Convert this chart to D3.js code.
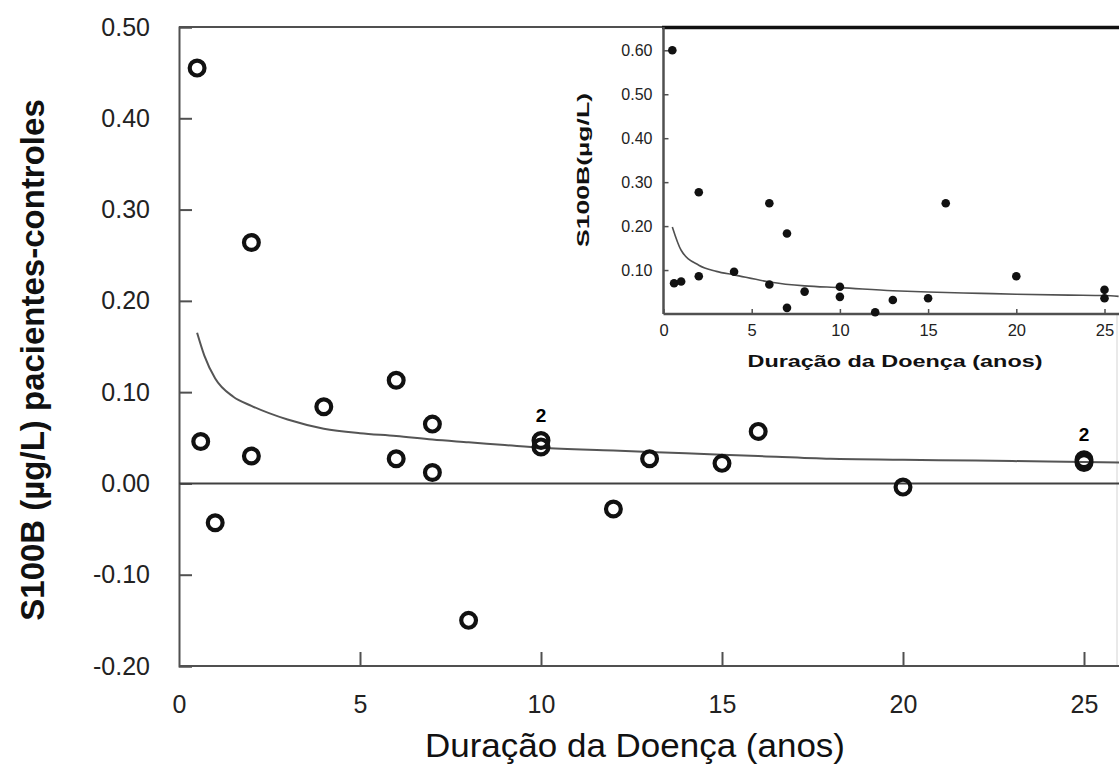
<!DOCTYPE html>
<html>
<head>
<meta charset="utf-8">
<script src="https://cdn.jsdelivr.net/npm/d3@7"></script>
<style>
  body { margin: 0; background: #fff; }
  svg { display: block; font-family: "Liberation Sans", Arial, sans-serif; }
</style>
</head>
<body>
<div id="chart"></div>
<script>
// main plot: S100B patients - controls
var mainX = [0.5, 0.6, 1, 2, 2, 4, 6, 6, 7, 7, 8, 10, 10, 12, 13, 15, 16, 20, 25, 25];
var mainY = [0.455, 0.046, -0.043, 0.264, 0.030, 0.084, 0.113, 0.027, 0.065, 0.012, -0.150, 0.047, 0.040, -0.028, 0.027, 0.022, 0.057, -0.004, 0.026, 0.023];

// fitted curve of the main plot
var curveX = [0.5, 0.7, 1, 1.5, 2, 3, 4, 5, 6, 7, 8, 9, 10, 12, 14, 16, 18, 20, 22, 24, 26];
var curveY = [0.165, 0.14, 0.115, 0.095, 0.085, 0.07, 0.06, 0.055, 0.052, 0.048, 0.045, 0.042, 0.039, 0.036, 0.033, 0.030, 0.027, 0.026, 0.025, 0.024, 0.023];

// inset: S100B of patients
var insetX = [0.5, 0.6, 1, 2, 2, 4, 6, 6, 7, 7, 8, 10, 10, 12, 13, 15, 16, 20, 25, 25];
var insetY = [0.60, 0.07, 0.074, 0.277, 0.086, 0.096, 0.252, 0.067, 0.183, 0.014, 0.051, 0.062, 0.039, 0.004, 0.032, 0.036, 0.252, 0.086, 0.055, 0.036];

var insetCurveX = [0.5, 1, 2, 3, 4, 6, 8, 10, 13, 15, 18, 20, 23, 25, 25.8];
var insetCurveY = [0.198, 0.145, 0.111, 0.097, 0.089, 0.073, 0.064, 0.060, 0.053, 0.050, 0.047, 0.045, 0.043, 0.042, 0.040];

// "2" = two overlapping patients
var countX = [10, 25];
var countY = [0.047, 0.026];
var countLabel = ["2", "2"];

var mainXTicks = [0, 5, 10, 15, 20, 25];
var mainYTicks = [-0.2, -0.1, 0, 0.1, 0.2, 0.3, 0.4, 0.5];
var insetXTicks = [0, 5, 10, 15, 20, 25];
var insetYTicks = [0.1, 0.2, 0.3, 0.4, 0.5, 0.6];

var W = 1119, H = 767;
var axisCol = "#505050";

var svg = d3.select("#chart").append("svg")
    .attr("width", W)
    .attr("height", H);

// ---------- main plot ----------
var x = d3.scaleLinear().domain([0, 26]).range([179, 179 + 26 * 36.2]);
var y = d3.scaleLinear().domain([-0.2, 0.5]).range([666, 27]);

// frame top + faint right edge
svg.append("line")
    .attr("x1", 179).attr("x2", W).attr("y1", y(0.5)).attr("y2", y(0.5))
    .attr("stroke", axisCol).attr("stroke-width", 2);
svg.append("line")
    .attr("x1", 1117).attr("x2", 1117).attr("y1", y(0.5)).attr("y2", y(-0.2))
    .attr("stroke", "#e2e2e2").attr("stroke-width", 1.5);

var yAxis = svg.append("g")
    .attr("transform", "translate(179,0)")
    .call(d3.axisLeft(y)
        .tickValues(mainYTicks)
        .tickSize(-13)
        .tickPadding(29)
        .tickFormat(function(d) { return d.toFixed(2); }));
yAxis.select(".domain").attr("stroke", axisCol).attr("stroke-width", 2);
yAxis.selectAll(".tick line").attr("stroke", axisCol).attr("stroke-width", 2);
yAxis.selectAll(".tick text").attr("font-size", 25).attr("fill", "#222")
    .attr("font-family", "Liberation Sans, Arial, sans-serif");

var xAxis = svg.append("g")
    .attr("transform", "translate(0,666)")
    .call(d3.axisBottom(x)
        .tickValues(mainXTicks)
        .tickSize(-14)
        .tickPadding(29)
        .tickFormat(d3.format("d")));
xAxis.select(".domain").remove();
xAxis.append("line")
    .attr("x1", 179).attr("x2", W).attr("y1", 0).attr("y2", 0)
    .attr("stroke", axisCol).attr("stroke-width", 2);
xAxis.selectAll(".tick line").attr("stroke", axisCol).attr("stroke-width", 2);
xAxis.selectAll(".tick").filter(function(d) { return d === 0; }).select("line").remove();
xAxis.selectAll(".tick text").attr("font-size", 25).attr("fill", "#222")
    .attr("font-family", "Liberation Sans, Arial, sans-serif");

// zero line
svg.append("line")
    .attr("x1", 179).attr("x2", W).attr("y1", y(0)).attr("y2", y(0))
    .attr("stroke", "#404040").attr("stroke-width", 2);

// fitted curve
var line = d3.line()
    .x(function(d) { return x(d[0]); })
    .y(function(d) { return y(d[1]); })
    .curve(d3.curveMonotoneX);
svg.append("path")
    .datum(d3.zip(curveX, curveY))
    .attr("d", line)
    .attr("fill", "none")
    .attr("stroke", "#555")
    .attr("stroke-width", 2);

// open circles
svg.selectAll("circle.main")
    .data(d3.zip(mainX, mainY))
    .enter()
    .append("circle")
    .attr("class", "main")
    .attr("cx", function(d) { return x(d[0]); })
    .attr("cy", function(d) { return y(d[1]); })
    .attr("r", 7.4)
    .attr("fill", "none")
    .attr("stroke", "#111")
    .attr("stroke-width", 4.2);

svg.selectAll("text.count")
    .data(d3.zip(countX, countY, countLabel))
    .enter()
    .append("text")
    .attr("class", "count")
    .attr("x", function(d) { return x(d[0]); })
    .attr("y", function(d) { return y(d[1]) - 19; })
    .attr("text-anchor", "middle")
    .attr("font-size", 19)
    .attr("font-weight", "bold")
    .text(function(d) { return d[2]; });

// axis titles
svg.append("text")
    .attr("x", 635).attr("y", 757)
    .attr("text-anchor", "middle")
    .attr("font-size", 33)
    .attr("textLength", 420)
    .attr("lengthAdjust", "spacingAndGlyphs")
    .attr("fill", "#111")
    .text("Duração da Doença (anos)");

svg.append("text")
    .attr("transform", "translate(44,360) rotate(-90)")
    .attr("text-anchor", "middle")
    .attr("font-size", 33)
    .attr("font-weight", "bold")
    .attr("fill", "#111")
    .text("S100B (µg/L) pacientes-controles");

// ---------- inset ----------
var ix = d3.scaleLinear().domain([0, 25.8]).range([663.5, 663.5 + 25.8 * 17.64]);
var iy = d3.scaleLinear().domain([0, 0.653]).range([314, 27]);

var inset = svg.append("g");

inset.append("rect")
    .attr("x", 663.5).attr("y", 27)
    .attr("width", W - 663.5).attr("height", 314 - 27)
    .attr("fill", "#fff");

inset.append("line")
    .attr("x1", 662).attr("x2", W).attr("y1", 27.5).attr("y2", 27.5)
    .attr("stroke", "#111").attr("stroke-width", 3.5);

var iyAxis = inset.append("g")
    .attr("transform", "translate(663.5,0)")
    .call(d3.axisLeft(iy)
        .tickValues(insetYTicks)
        .tickSize(-5)
        .tickPadding(11)
        .tickFormat(function(d) { return d.toFixed(2); }));
iyAxis.select(".domain").remove();
iyAxis.append("line")
    .attr("x1", 0).attr("x2", 0).attr("y1", 27).attr("y2", 314)
    .attr("stroke", axisCol).attr("stroke-width", 2.5);
iyAxis.selectAll(".tick line").attr("stroke", axisCol).attr("stroke-width", 1.5);
iyAxis.selectAll(".tick text").attr("font-size", 16).attr("fill", "#222")
    .attr("font-family", "Liberation Sans, Arial, sans-serif");

var ixAxis = inset.append("g")
    .attr("transform", "translate(0,314)")
    .call(d3.axisBottom(ix)
        .tickValues(insetXTicks)
        .tickSize(-5)
        .tickPadding(10)
        .tickFormat(d3.format("d")));
ixAxis.select(".domain").remove();
ixAxis.append("line")
    .attr("x1", 663.5).attr("x2", W).attr("y1", 0).attr("y2", 0)
    .attr("stroke", axisCol).attr("stroke-width", 2.5);
ixAxis.selectAll(".tick line").attr("stroke", axisCol).attr("stroke-width", 1.5);
ixAxis.selectAll(".tick text").attr("font-size", 16.5).attr("fill", "#222")
    .attr("font-family", "Liberation Sans, Arial, sans-serif");

var iline = d3.line()
    .x(function(d) { return ix(d[0]); })
    .y(function(d) { return iy(d[1]); })
    .curve(d3.curveMonotoneX);
inset.append("path")
    .datum(d3.zip(insetCurveX, insetCurveY))
    .attr("d", iline)
    .attr("fill", "none")
    .attr("stroke", "#505050")
    .attr("stroke-width", 1.6);

inset.selectAll("circle.inset")
    .data(d3.zip(insetX, insetY))
    .enter()
    .append("circle")
    .attr("class", "inset")
    .attr("cx", function(d) { return ix(d[0]); })
    .attr("cy", function(d) { return iy(d[1]); })
    .attr("r", 4.3)
    .attr("fill", "#111");

inset.append("text")
    .attr("x", 895).attr("y", 367)
    .attr("text-anchor", "middle")
    .attr("font-size", 17)
    .attr("font-weight", "bold")
    .attr("textLength", 295)
    .attr("lengthAdjust", "spacingAndGlyphs")
    .attr("fill", "#111")
    .text("Duração da Doença (anos)");

inset.append("text")
    .attr("transform", "translate(589,170) rotate(-90)")
    .attr("text-anchor", "middle")
    .attr("font-size", 17)
    .attr("font-weight", "bold")
    .attr("textLength", 154)
    .attr("lengthAdjust", "spacingAndGlyphs")
    .attr("fill", "#111")
    .text("S100B(µg/L)");
</script>
</body>
</html>
